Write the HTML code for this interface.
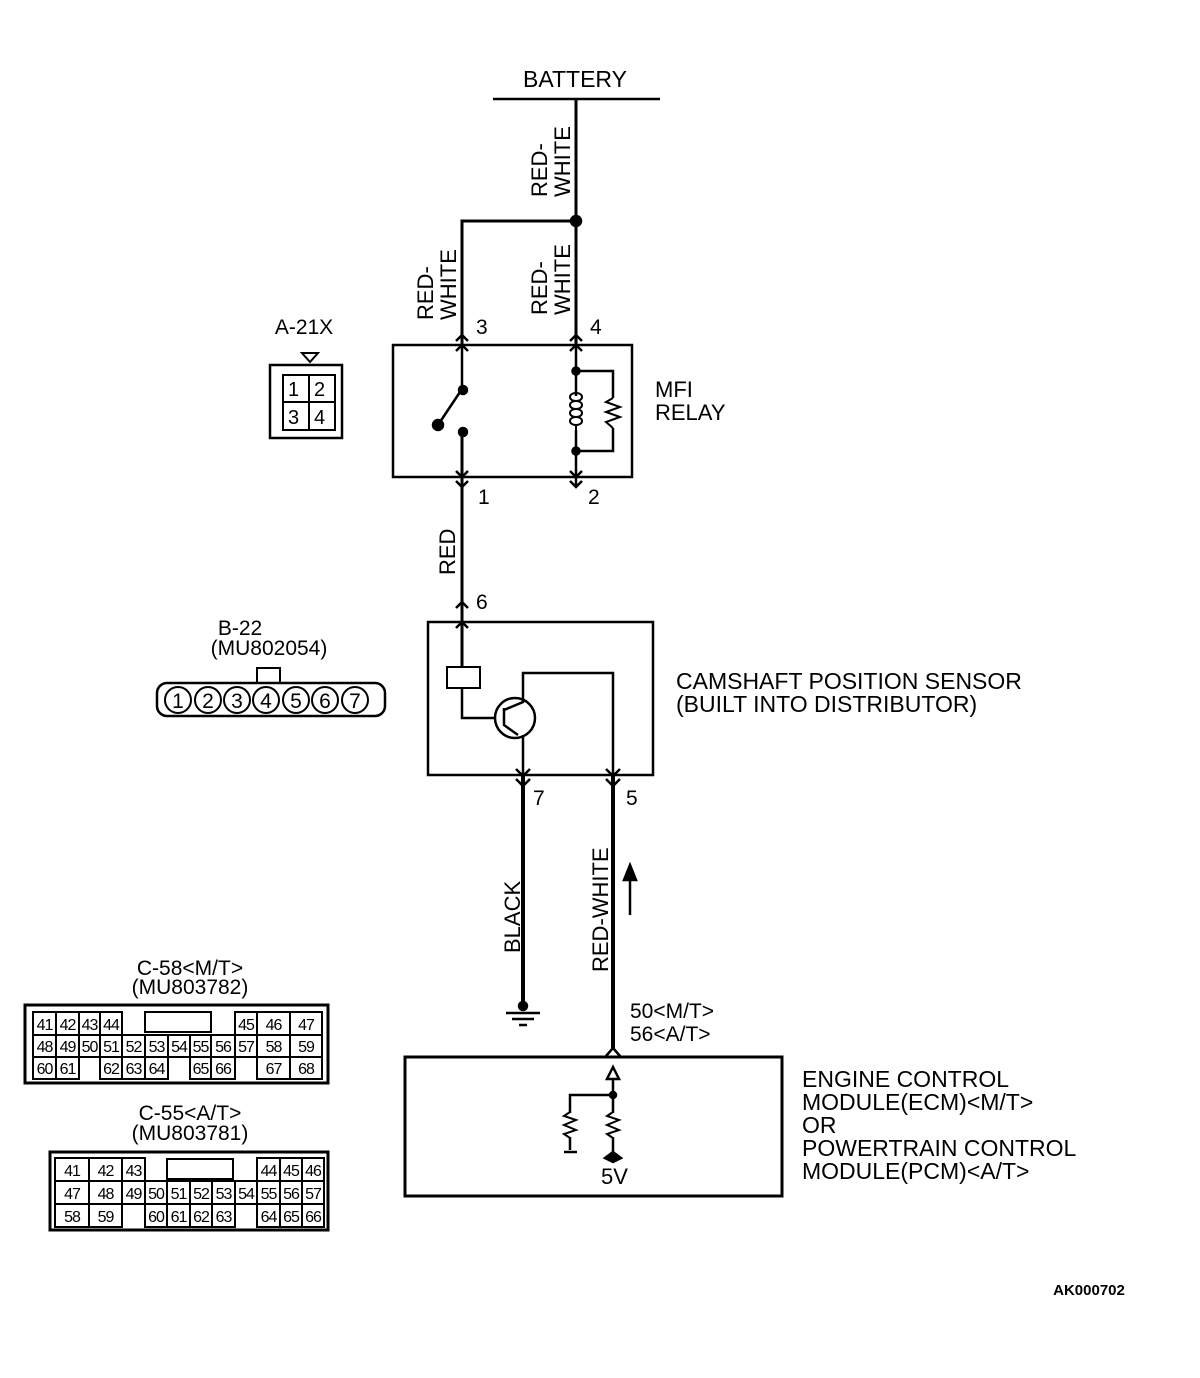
<!DOCTYPE html>
<html><head><meta charset="utf-8"><style>
html,body{margin:0;padding:0;background:#fff}
svg{display:block}
text{font-family:"Liberation Sans",sans-serif;fill:#000}
.s{font-size:15px;font-weight:bold}
</style></head><body>
<svg id="s" width="1200" height="1378" viewBox="0 0 1200 1378" xmlns="http://www.w3.org/2000/svg" stroke="#000" fill="none" stroke-width="2.5">
<text x="575" y="87" text-anchor="middle" stroke="none" font-size="23">BATTERY</text>
<line x1="493" y1="99" x2="660" y2="99" stroke-width="2.5"/>
<line x1="576" y1="99" x2="576" y2="345" stroke-width="3"/>
<circle cx="576" cy="221" r="5" fill="#000"/>
<polyline points="576,221 462,221 462,345" stroke-width="3"/>
<g stroke="none">
<text transform="translate(547,197) rotate(-90)" font-size="22">RED-</text>
<text transform="translate(570,197) rotate(-90)" font-size="22">WHITE</text>
<text transform="translate(433,320) rotate(-90)" font-size="22">RED-</text>
<text transform="translate(456,320) rotate(-90)" font-size="22">WHITE</text>
<text transform="translate(547,315) rotate(-90)" font-size="22">RED-</text>
<text transform="translate(570,315) rotate(-90)" font-size="22">WHITE</text>
<text x="476" y="334" font-size="21">3</text>
<text x="590" y="334" font-size="21">4</text>
<text x="478" y="504" font-size="21">1</text>
<text x="588" y="504" font-size="21">2</text>
<text x="655" y="397" font-size="22">MFI</text>
<text x="655" y="420" font-size="22">RELAY</text>
<text x="304" y="334" font-size="21" text-anchor="middle">A-21X</text>
</g>
<rect x="393" y="345" width="239" height="132"/>
<g stroke-width="2.5">
<polyline points="456,341 462,335 468,341"/><polyline points="456,351 462,345 468,351"/>
<polyline points="570,341 576,335 582,341"/><polyline points="570,351 576,345 582,351"/>
<polyline points="456,471 462,477 468,471"/><polyline points="456,481 462,487 468,481"/>
<polyline points="570,471 576,477 582,471"/><polyline points="570,481 576,487 582,481"/>
<line x1="462" y1="345" x2="462" y2="389"/>
<line x1="462" y1="432" x2="462" y2="510" stroke-width="3"/>
<line x1="462" y1="389" x2="438" y2="425"/>
<line x1="576" y1="345" x2="576" y2="487"/>
<polyline points="576,371 613,371 613,451 576,451"/>
</g>
<circle cx="463" cy="390" r="4" fill="#000"/>
<circle cx="463" cy="432" r="4" fill="#000"/>
<circle cx="438" cy="425" r="5" fill="#000"/>
<circle cx="576" cy="371" r="3.5" fill="#000"/>
<circle cx="576" cy="451" r="3.5" fill="#000"/>
<rect x="568" y="396" width="16" height="34" fill="#fff" stroke="none"/>
<path d="M576,393 c8,0 8,8 0,8 c8,0 8,8 0,8 c8,0 8,8 0,8 c8,0 8,8 0,8 v6 M576,393 c-8,0 -8,8 0,8 M576,401 c-8,0 -8,8 0,8 M576,409 c-8,0 -8,8 0,8 M576,417 c-8,0 -8,8 0,8" stroke-width="2"/>
<rect x="606" y="398" width="14" height="30" fill="#fff" stroke="none"/>
<polyline points="613,398 606,402 620,407 606,412 620,417 606,422 613,428" stroke-width="2"/>
<polygon points="302,353 318,353 310,362" stroke-width="2"/>
<rect x="270" y="365" width="72" height="73" stroke-width="2.5"/>
<rect x="283" y="375" width="52" height="55" stroke-width="2"/>
<line x1="309" y1="375" x2="309" y2="430" stroke-width="2"/><line x1="283" y1="402" x2="335" y2="402" stroke-width="2"/>
<g stroke="none" font-size="20"><text x="288" y="396">1</text><text x="314" y="396">2</text><text x="288" y="424">3</text><text x="314" y="424">4</text></g>
<g stroke="none">
<text transform="translate(455,575) rotate(-90)" font-size="22">RED</text>
<text x="476" y="609" font-size="21">6</text>
<text x="533" y="805" font-size="21">7</text>
<text x="626" y="805" font-size="21">5</text>
<text x="676" y="689" font-size="23">CAMSHAFT POSITION SENSOR</text>
<text x="676" y="712" font-size="23">(BUILT INTO DISTRIBUTOR)</text>
<text transform="translate(520,953) rotate(-90)" font-size="22">BLACK</text>
<text transform="translate(608,972) rotate(-90)" font-size="22">RED-WHITE</text>
<text x="630" y="1018" font-size="21">50&lt;M/T&gt;</text>
<text x="630" y="1041" font-size="21">56&lt;A/T&gt;</text>
<text x="240" y="635" font-size="21" text-anchor="middle">B-22</text>
<text x="269" y="655" font-size="21" text-anchor="middle">(MU802054)</text>
</g>
<rect x="428" y="622" width="225" height="153"/>
<g stroke-width="2.5">
<line x1="462" y1="510" x2="462" y2="667" stroke-width="3"/>
<polyline points="456,608 462,602 468,608"/><polyline points="456,628 462,622 468,628"/>
<rect x="447" y="667" width="33" height="21" stroke-width="2"/>
<polyline points="462,688 462,718 495,718"/>
<circle cx="515" cy="718" r="20"/>
<polyline points="504,708 504,725 518,735"/>
<polyline points="504,710 523,702 523,673 613,673 613,775"/>
<line x1="523" y1="735" x2="523" y2="775"/>
<line x1="523" y1="775" x2="523" y2="1005" stroke-width="4"/>
<line x1="613" y1="775" x2="613" y2="1048" stroke-width="4"/>
<polyline points="516,769 523,776 530,769"/><polyline points="516,779 523,786 530,779"/>
<polyline points="606,769 613,776 620,769"/><polyline points="606,779 613,786 620,779"/>
<line x1="630" y1="915" x2="630" y2="875"/>
<line x1="506" y1="1013" x2="540" y2="1013"/><line x1="512" y1="1019" x2="534" y2="1019"/><line x1="519" y1="1025" x2="527" y2="1025"/>
<polyline points="606,1056 613,1048 620,1056"/>
</g>
<polygon points="630,865 624,880 636,880" fill="#000"/>
<circle cx="523" cy="1006" r="4" fill="#000"/>
<rect x="257" y="668" width="23" height="15" stroke-width="2"/>
<rect x="157" y="683" width="228" height="33" rx="10" stroke-width="2.5"/>
<g id="circ"></g>
<rect x="405" y="1057" width="377" height="139" stroke-width="3"/>
<polygon points="613,1067 607,1079 619,1079" stroke-width="2.5"/>
<g stroke-width="2.5">
<line x1="613" y1="1079" x2="613" y2="1158"/>
<polyline points="613,1095 570,1095 570,1150"/>
<line x1="564" y1="1152" x2="577" y2="1152"/>
</g>
<rect x="563" y="1113" width="14" height="24" fill="#fff" stroke="none"/>
<polyline points="570,1112 564,1116 576,1120 564,1125 576,1130 564,1134 570,1138" stroke-width="2"/>
<rect x="606" y="1113" width="14" height="24" fill="#fff" stroke="none"/>
<polyline points="613,1112 607,1116 619,1120 607,1125 619,1130 607,1134 613,1138" stroke-width="2"/>
<circle cx="613" cy="1095" r="3" fill="#000"/>
<polygon points="613,1152 605,1158 613,1162 621,1158" fill="#000"/>
<g stroke="none" font-size="23">
<text x="601" y="1184" font-size="22">5V</text>
<text x="802" y="1087">ENGINE CONTROL</text>
<text x="802" y="1110">MODULE(ECM)&lt;M/T&gt;</text>
<text x="802" y="1133">OR</text>
<text x="802" y="1156">POWERTRAIN CONTROL</text>
<text x="802" y="1179">MODULE(PCM)&lt;A/T&gt;</text>
<text x="190" y="975" text-anchor="middle" font-size="21">C-58&lt;M/T&gt;</text>
<text x="190" y="994" text-anchor="middle" font-size="21">(MU803782)</text>
<text x="190" y="1120" text-anchor="middle" font-size="21">C-55&lt;A/T&gt;</text>
<text x="190" y="1140" text-anchor="middle" font-size="21">(MU803781)</text>
<text x="1089" y="1295" text-anchor="middle" class="s">AK000702</text>
</g>
<rect x="25" y="1005" width="303" height="78" stroke-width="3"/>
<rect x="145" y="1012" width="66" height="20" stroke-width="2"/>
<rect x="50" y="1152" width="278" height="78" stroke-width="3"/>
<rect x="167" y="1159" width="66" height="20" stroke-width="2"/>
<g id="cells"></g>
</svg>
<script>
var NS="http://www.w3.org/2000/svg";
function el(p,t,a,txt){var e=document.createElementNS(NS,t);for(var k in a)e.setAttribute(k,a[k]);if(txt)e.textContent=txt;p.appendChild(e);return e;}
var c=document.getElementById("circ");
[178,208,237,266,296,325,355].forEach(function(x,i){el(c,"circle",{cx:x,cy:700,r:13,"stroke-width":2});el(c,"text",{x:x,y:708,"text-anchor":"middle","font-size":21,stroke:"none"},String(i+1));});
var g=document.getElementById("cells");
function row(y,h,cells){cells.forEach(function(c){el(g,"rect",{x:c[0],y:y,width:c[1]-c[0],height:h,"stroke-width":2});el(g,"text",{x:(c[0]+c[1])/2,y:y+h-5,"text-anchor":"middle","font-size":16,stroke:"none","letter-spacing":"-1"},c[2]);});}
row(1012,23,[[33,56,"41"],[56,79,"42"],[79,100,"43"],[100,122,"44"],[235,257,"45"],[257,290,"46"],[290,322,"47"]]);
row(1035,22,[[33,56,"48"],[56,79,"49"],[79,100,"50"],[100,122,"51"],[122,145,"52"],[145,168,"53"],[168,190,"54"],[190,211,"55"],[211,235,"56"],[235,257,"57"],[257,290,"58"],[290,322,"59"]]);
row(1057,22,[[33,56,"60"],[56,79,"61"],[100,122,"62"],[122,145,"63"],[145,168,"64"],[190,211,"65"],[211,235,"66"],[257,290,"67"],[290,322,"68"]]);
row(1158,23,[[55,89,"41"],[89,122,"42"],[122,145,"43"],[257,280,"44"],[280,302,"45"],[302,324,"46"]]);
row(1181,23,[[55,89,"47"],[89,122,"48"],[122,145,"49"],[145,167,"50"],[167,190,"51"],[190,212,"52"],[212,235,"53"],[235,257,"54"],[257,280,"55"],[280,302,"56"],[302,324,"57"]]);
row(1204,23,[[55,89,"58"],[89,122,"59"],[145,167,"60"],[167,190,"61"],[190,212,"62"],[212,235,"63"],[257,280,"64"],[280,302,"65"],[302,324,"66"]]);
</script>
</body></html>
